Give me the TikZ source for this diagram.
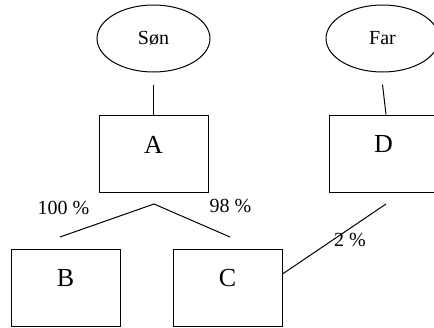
\documentclass[tikz,border=0pt]{standalone}
\usepackage{fontspec}
\setmainfont{Liberation Serif}
\usetikzlibrary{shapes.geometric}
\begin{document}
\begin{tikzpicture}[x=1pt,y=-1pt,line width=1pt,
  person/.style={draw,ellipse,minimum width=113pt,minimum height=67pt,inner sep=0pt,font=\fontsize{20}{24}\selectfont},
  unit/.style={draw,rectangle,minimum width=109pt,minimum height=77pt,inner sep=0pt},
  letter/.style={font=\fontsize{26}{30}\selectfont,yshift=9pt},
  pct/.style={inner sep=0pt,font=\fontsize{20}{24}\selectfont}]
\clip (0,0) rectangle (434,327);
\useasboundingbox (0,0) rectangle (434,327);
\node[person] (son) at (153.5,38.5) {Søn};
\node[person] (far) at (382.5,38.5) {Far};
\node[unit,label={[letter]center:A}] (A) at (153.5,153.5) {};
\node[unit,label={[letter]center:D}] (D) at (383.5,153.5) {};
\node[unit,label={[letter]center:B}] (B) at (65.5,287.5) {};
\node[unit,label={[letter]center:C}] (C) at (227.5,287.5) {};
\coordinate (split) at (154,204);
\coordinate (toB) at (60,237);
\coordinate (toC) at (230,237);
\coordinate (fromD) at (386,204);
\draw ([yshift=-12pt]son.south) -- (A.north);
\draw ([yshift=-12pt]far.south) -- ([xshift=2.5pt]D.north);
\draw (toB) -- (split) -- (toC);
\draw ([yshift=13.5pt]C.east) -- (fromD);
\node[pct] (p100) at (63.5,207.5) {100 \%};
\node[pct] (p98) at (230.5,206) {98 \%};
\node[pct] (p2) at (350,240) {2 \%};
\end{tikzpicture}
\end{document}
